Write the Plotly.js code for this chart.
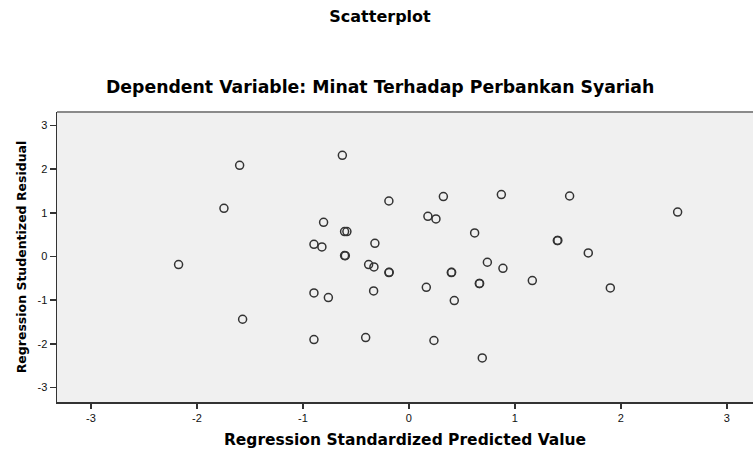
<!DOCTYPE html>
<html>
<head>
<meta charset="utf-8">
<script src="https://cdn.plot.ly/plotly-3.0.1.min.js"></script>
<style>html,body{margin:0;padding:0;background:#fff}#chart{width:753px;height:450px}</style>
</head>
<body>
<div id="chart"></div>
<script>
// Regression standardized predicted value (x) and studentized residual (y)
const predicted = [
  -1.597, -1.745, -0.628, -0.189, 0.325, 0.872, -0.805, 0.179, 0.255, 0.620,
  -0.607, -0.585, -0.896, -0.821, -0.321, -0.607, -0.600, 1.516, 2.535, 1.400,
  1.405, 1.692, -2.173, -1.569, -0.380, -0.330, -0.189, -0.186, 0.400, 0.403,
  0.740, 0.887, 1.164, 0.664, 0.667, 0.164, 0.428, -0.896, -0.760, -0.333,
  -0.896, -0.408, 0.236, 0.692, 1.900
];
const residual = [
  2.090, 1.105, 2.318, 1.272, 1.373, 1.419, 0.785, 0.922, 0.861, 0.540,
  0.572, 0.572, 0.281, 0.220, 0.304, 0.023, 0.020, 1.387, 1.020, 0.366,
  0.370, 0.083, -0.183, -1.435, -0.183, -0.238, -0.366, -0.362, -0.366, -0.362,
  -0.130, -0.268, -0.550, -0.618, -0.614, -0.703, -1.007, -0.833, -0.938, -0.787,
  -1.900, -1.854, -1.922, -2.320, -0.718
];
const xTickVals = [-3, -2, -1, 0, 1, 2, 3];
const xTickText = ["-3", "-2", "-1", "0", "1", "2", "3"];
const yTickVals = [-3, -2, -1, 0, 1, 2, 3];
const yTickText = ["-3", "-2", "-1", "0", "1", "2", "3"];

const titleText = "Scatterplot";
const subtitleText = "Dependent Variable: Minat Terhadap Perbankan Syariah";
const xTitle = "Regression Standardized Predicted Value";
const yTitle = "Regression Studentized Residual";

const trace = {
  x: predicted,
  y: residual,
  type: "scatter",
  mode: "markers",
  marker: {
    symbol: "circle-open",
    size: 8,
    color: "#333",
    line: {width: 1.5, color: "#333"}
  },
  hoverinfo: "x+y"
};

const tickFont = {family: "Liberation Sans, Arial, sans-serif", size: 11, color: "#111"};

const layout = {
  width: 753,
  height: 450,
  margin: {l: 57, r: 0, t: 112, b: 48, pad: 0},
  paper_bgcolor: "#ffffff",
  plot_bgcolor: "#f0f0f0",
  showlegend: false,
  title: {
    text: titleText,
    font: {family: "DejaVu Sans, sans-serif", size: 16, color: "#000", weight: "bold"},
    x: 380 / 753,
    xref: "container",
    xanchor: "center",
    y: 1 - 16 / 450,
    yref: "container",
    yanchor: "middle"
  },
  annotations: [{
    text: subtitleText,
    xref: "paper",
    yref: "paper",
    x: (380 - 57) / 696,
    y: 1 + (111.7 - 86.5) / 290,
    xanchor: "center",
    yanchor: "middle",
    showarrow: false,
    font: {family: "DejaVu Sans, sans-serif", size: 17.3, color: "#000", weight: "bold"}
  }],
  shapes: [{
    type: "line", xref: "paper", yref: "paper",
    x0: 0, x1: 1, y0: 1, y1: 1,
    line: {color: "#8a8a8a", width: 2},
    layer: "above"
  }],
  xaxis: {
    range: [-3.32, 3.246],
    tickvals: xTickVals,
    ticktext: xTickText,
    ticks: "outside",
    ticklen: 5,
    tickwidth: 1.5,
    tickcolor: "#333",
    showgrid: false,
    zeroline: false,
    showline: true,
    linecolor: "#333",
    linewidth: 1.5,
    tickfont: tickFont,
    title: {
      text: xTitle,
      font: {family: "DejaVu Sans, sans-serif", size: 15.5, color: "#000", weight: "bold"},
      standoff: 11
    }
  },
  yaxis: {
    range: [-3.33, 3.31],
    tickvals: yTickVals,
    ticktext: yTickText,
    ticks: "outside",
    ticklen: 6,
    tickwidth: 1.5,
    tickcolor: "#333",
    showgrid: false,
    zeroline: false,
    showline: true,
    linecolor: "#333",
    linewidth: 1.5,
    tickfont: tickFont,
    title: {
      text: yTitle,
      font: {family: "DejaVu Sans, sans-serif", size: 12.5, color: "#000", weight: "bold"},
      standoff: 8
    }
  }
};

Plotly.newPlot("chart", [trace], layout, {displayModeBar: false, staticPlot: true});
</script>
</body>
</html>
